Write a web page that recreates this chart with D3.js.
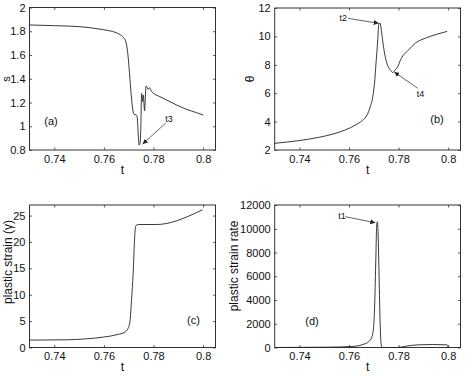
<!DOCTYPE html>
<html>
<head>
<meta charset="utf-8">
<script src="https://cdn.jsdelivr.net/npm/d3@7/dist/d3.min.js"></script>
<style>
  body { margin: 0; background: #fff; }
  svg text { font-family: "Liberation Sans Narrow", "Liberation Sans", Arial, sans-serif; fill: #111; }
  .ylab { font-family: "Liberation Sans", Arial, sans-serif !important; }
</style>
</head>
<body>
<div id="chart"></div>
<script>
// shared time axis
var xDomain = [0.73, 0.805];
var xTicks = [0.74, 0.76, 0.78, 0.8];

// (a) s vs t
var sT   = [0.730, 0.740, 0.750, 0.758, 0.762, 0.765, 0.767, 0.768, 0.769, 0.7697, 0.7705, 0.7712, 0.7718, 0.7722, 0.7730, 0.7734, 0.7738, 0.7742, 0.7746, 0.7749, 0.7752, 0.7756, 0.7759, 0.7764, 0.7770, 0.7779, 0.7783, 0.7793, 0.7826, 0.7853, 0.7893, 0.7934, 0.7974, 0.8001];
var sVal = [1.853, 1.847, 1.839, 1.819, 1.805, 1.788, 1.765, 1.745, 1.70, 1.60, 1.40, 1.22, 1.12, 1.10, 1.095, 1.08, 0.95, 0.842, 0.86, 1.00, 1.277, 1.207, 1.263, 1.131, 1.339, 1.311, 1.325, 1.291, 1.249, 1.221, 1.179, 1.142, 1.114, 1.094];
var sTicks = [0.8, 1, 1.2, 1.4, 1.6, 1.8, 2];

// (b) theta vs t
var thT   = [0.730, 0.7397, 0.7478, 0.7532, 0.7585, 0.7626, 0.7653, 0.7673, 0.7686, 0.7696, 0.7703, 0.7709, 0.7716, 0.7720, 0.7725, 0.7732, 0.7739, 0.7746, 0.7755, 0.7766, 0.7776, 0.7787, 0.7797, 0.7808, 0.7821, 0.7841, 0.7868, 0.7909, 0.7949, 0.7996];
var thVal = [2.47, 2.66, 2.89, 3.11, 3.41, 3.76, 4.07, 4.47, 5.06, 5.76, 6.71, 8.12, 9.76, 10.82, 10.94, 10.24, 9.29, 8.59, 8.0, 7.65, 7.46, 7.65, 7.88, 8.35, 8.71, 9.06, 9.53, 9.88, 10.12, 10.35];
var thTicks = [2, 4, 6, 8, 10, 12];

// (c) plastic strain vs t
var gT   = [0.730, 0.745, 0.7531, 0.7598, 0.7652, 0.7685, 0.7698, 0.7705, 0.7712, 0.7719, 0.7724, 0.7729, 0.7739, 0.7813, 0.7853, 0.7893, 0.7947, 0.7998];
var gVal = [1.40, 1.46, 1.65, 1.97, 2.42, 2.93, 3.69, 4.96, 9.41, 15.1, 20.9, 23.1, 23.3, 23.3, 23.5, 24.0, 25.0, 26.1];
var gTicks = [0, 5, 10, 15, 20, 25];

// (d) plastic strain rate vs t
var rT   = [0.730, 0.7532, 0.7612, 0.766, 0.768, 0.7693, 0.770, 0.7704, 0.7708, 0.7712, 0.7715, 0.7717, 0.7721, 0.7725, 0.773, 0.7734, 0.780, 0.7828, 0.7882, 0.7936, 0.7996, 0.8];
var rVal = [0, 30, 85, 280, 510, 930, 1915, 3890, 7270, 10370, 10590, 9800, 6420, 2480, 225, 0, 0, 110, 225, 250, 225, 0];
var rTicks = [0, 2000, 4000, 6000, 8000, 10000, 12000];

// annotations: [label, textT, textY, tailT, tailY, tipT, tipY]
var notesA = [["t3", 0.78625, 1.064, 0.78492, 1.027, 0.77565, 0.8505]];
var notesB = [["t2", 0.75765, 11.31, 0.7596, 11.27, 0.7720, 10.92],
              ["t4", 0.78885, 5.96, 0.78772, 6.35, 0.77828, 7.49]];
var notesD = [["t1", 0.75717, 11048, 0.7585, 11015, 0.7706, 10509]];

var width = 467, height = 376;
var svg = d3.select("#chart").append("svg")
    .attr("width", width)
    .attr("height", height);

svg.append("defs").append("marker")
    .attr("id", "arr")
    .attr("viewBox", "0 0 10 10")
    .attr("refX", 10).attr("refY", 5)
    .attr("markerWidth", 5).attr("markerHeight", 5)
    .attr("markerUnits", "userSpaceOnUse")
    .attr("orient", "auto")
    .append("path")
    .attr("d", "M0,0 L10,5 L0,10 z")
    .attr("fill", "#222");

function drawPanel(p) {
    var x = d3.scaleLinear().domain(xDomain).range([p.left, p.right]);
    var y = d3.scaleLinear().domain(p.yDomain).range([p.bottom, p.top]);
    var g = svg.append("g");
    var tick = 2.5;

    g.append("g").attr("transform", `translate(0,${p.bottom})`)
        .call(d3.axisBottom(x).tickValues(xTicks).tickSize(-tick).tickPadding(5).tickFormat(function(d){ return d; }));
    g.append("g").attr("transform", `translate(0,${p.top})`)
        .call(d3.axisTop(x).tickValues(xTicks).tickSize(-tick).tickFormat(""));
    g.append("g").attr("transform", `translate(${p.left},0)`)
        .call(d3.axisLeft(y).tickValues(p.yTicks).tickSize(-tick).tickPadding(4).tickFormat(function(d){ return d; }));
    g.append("g").attr("transform", `translate(${p.right},0)`)
        .call(d3.axisRight(y).tickValues(p.yTicks).tickSize(-tick).tickFormat(""));

    g.selectAll(".domain").remove();
    g.selectAll(".tick line").attr("stroke", "#333").attr("stroke-width", 0.8);
    g.selectAll(".tick text").attr("font-size", 11).attr("fill", "#111")
        .style("font-family", '"Liberation Sans Narrow", "Liberation Sans", Arial, sans-serif');

    g.append("rect")
        .attr("x", p.left).attr("y", p.top)
        .attr("width", p.right - p.left).attr("height", p.bottom - p.top)
        .attr("fill", "none").attr("stroke", "#333").attr("stroke-width", 1);

    var pts = p.t.map(function(t, i){ return [t, p.v[i]]; });
    var line = d3.line()
        .x(function(d){ return x(d[0]); })
        .y(function(d){ return y(d[1]); })
        .curve(d3.curveMonotoneX);
    g.append("path").datum(pts)
        .attr("d", line)
        .attr("fill", "none").attr("stroke", "#222").attr("stroke-width", 0.9);

    // x label
    g.append("text")
        .attr("x", (p.left + p.right) / 2).attr("y", p.bottom + 23.5)
        .attr("text-anchor", "middle").attr("font-size", 12)
        .text("t");

    // y label
    g.append("text").attr("class", "ylab")
        .attr("transform", `translate(${p.ylabX},${p.ylabY}) rotate(-90)`)
        .attr("text-anchor", "middle").attr("font-size", p.ylabSize || 12)
        .text(p.ylabel);

    // panel tag
    g.append("text")
        .attr("x", x(p.tag[1])).attr("y", y(p.tag[2]))
        .attr("text-anchor", "middle").attr("dominant-baseline", "central")
        .attr("font-size", 11)
        .text(p.tag[0]);

    // arrows with labels
    p.notes.forEach(function(n){
        g.append("line")
            .attr("x1", x(n[3])).attr("y1", y(n[4]))
            .attr("x2", x(n[5])).attr("y2", y(n[6]))
            .attr("stroke", "#222").attr("stroke-width", 0.7)
            .attr("marker-end", "url(#arr)");
        g.append("text")
            .attr("x", x(n[1])).attr("y", y(n[2]))
            .attr("text-anchor", "middle").attr("dominant-baseline", "central")
            .attr("font-size", 9)
            .text(n[0]);
    });
}

drawPanel({ left: 29.5, right: 215.5, top: 7.5, bottom: 150, yDomain: [0.8, 2], yTicks: sTicks,
    t: sT, v: sVal, ylabel: "s", ylabX: 10.2, ylabY: 79, ylabSize: 11,
    tag: ["(a)", 0.73867, 1.044], notes: notesA });

drawPanel({ left: 274.7, right: 460.5, top: 8, bottom: 150, yDomain: [2, 12], yTicks: thTicks,
    t: thT, v: thVal, ylabel: "θ", ylabX: 254, ylabY: 79,
    tag: ["(b)", 0.79551, 4.15], notes: notesB });

drawPanel({ left: 29.5, right: 215.5, top: 205, bottom: 347.5, yDomain: [0, 27], yTicks: gTicks,
    t: gT, v: gVal, ylabel: "plastic strain (γ)", ylabX: 11.5, ylabY: 262,
    tag: ["(c)", 0.79613, 5.21], notes: [] });

drawPanel({ left: 274.7, right: 460.5, top: 205, bottom: 347.5, yDomain: [0, 12000], yTicks: rTicks,
    t: rT, v: rVal, ylabel: "plastic strain rate", ylabX: 237.5, ylabY: 266,
    tag: ["(d)", 0.74506, 2232], notes: notesD });
</script>
</body>
</html>
